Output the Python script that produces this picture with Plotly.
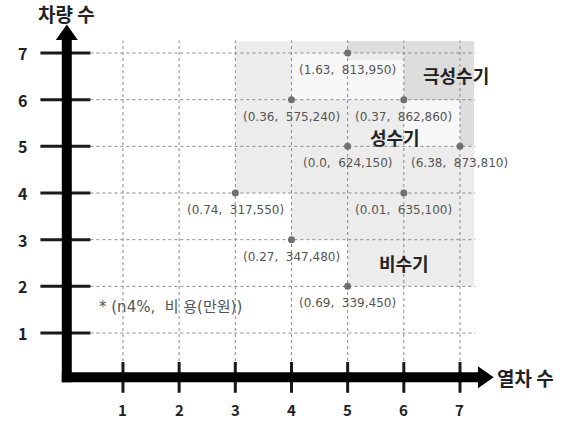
import plotly.graph_objects as go

# ---- data ----
tick_vals = [1, 2, 3, 4, 5, 6, 7]
tick_labels = ["1", "2", "3", "4", "5", "6", "7"]
point_x = [5, 4, 6, 5, 7, 3, 6, 4, 5]
point_y = [7, 6, 6, 5, 5, 4, 4, 3, 2]
point_labels = ["(1.63, 813,950)", "(0.36, 575,240)", "(0.37, 862,860)",
                "(0.0, 624,150)", "(6.38, 873,810)", "(0.74, 317,550)",
                "(0.01, 635,100)", "(0.27, 347,480)", "(0.69, 339,450)"]
region_names = ["극성수기", "성수기", "비수기"]
region_x = [6.93, 5.85, 6.0]
region_y = [6.53, 5.2, 2.5]
x_title = "열차 수"
y_title = "차량 수"
note_text = "* (n4%, 비 용(만원))"

FONT = "Noto Sans CJK KR"
LFONT = "DejaVu Sans, Noto Sans CJK KR"
W, H = 577, 422
px_x = 56.17
px_y = 46.67
x0_px = 66.8
y0_px = 379.7
xr = [-x0_px / px_x, (W - x0_px) / px_x]
yr = [-(H - y0_px) / px_y, y0_px / px_y]
dx = 1 / px_x   # data units per pixel
dy = 1 / px_y

fig = go.Figure()
shapes = []

# shaded regions
light = "rgba(236,236,236,1)"
dark = "rgba(221,221,221,1)"
whiter = "rgba(247,247,247,1)"
shapes.append(dict(type="path", path="M 3 4 L 3 7.25 L 7.25 7.25 L 7.25 2 L 5 2 L 5 3 L 4 3 L 4 4 Z",
                   fillcolor=light, line=dict(width=0), layer="below"))
shapes.append(dict(type="rect", x0=4, x1=5, y0=6, y1=7, fillcolor=whiter, line=dict(width=0), layer="below"))
shapes.append(dict(type="rect", x0=6, x1=7, y0=5, y1=6, fillcolor=whiter, line=dict(width=0), layer="below"))
shapes.append(dict(type="rect", x0=5, x1=6, y0=6, y1=6.85, fillcolor=whiter, line=dict(width=0), layer="below"))
shapes.append(dict(type="path", path="M 5 7 L 5 7.25 L 7.25 7.25 L 7.25 5 L 7 5 L 7 6 L 6 6 L 6 7 Z",
                   fillcolor=dark, line=dict(width=0), layer="below"))

grid_end = 7.27
# grid lines
for v in tick_vals:
    shapes.append(dict(type="line", x0=0.42, x1=grid_end, y0=v, y1=v,
                       line=dict(color="#8a8a8a", width=1, dash="dot"), layer="below"))
    shapes.append(dict(type="line", x0=v, x1=v, y0=0.4, y1=grid_end,
                       line=dict(color="#8a8a8a", width=1, dash="dot"), layer="below"))

# tick marks
for v in tick_vals:
    shapes.append(dict(type="line", x0=-0.47, x1=0.42, y0=v, y1=v,
                       line=dict(color="#1a1a1a", width=3)))
    shapes.append(dict(type="line", x0=v, x1=v, y0=-0.28, y1=0.38,
                       line=dict(color="#1a1a1a", width=3)))

# axes lines (thick)
ax_y0 = 0.05
shapes.append(dict(type="rect", x0=-5 * dx, x1=5 * dx, y0=ax_y0 - 5 * dy, y1=7.3,
                   fillcolor="black", line=dict(width=0)))
shapes.append(dict(type="rect", x0=-5 * dx, x1=7.33, y0=ax_y0 - 5 * dy, y1=ax_y0 + 5 * dy,
                   fillcolor="black", line=dict(width=0)))
# arrowheads
shapes.append(dict(type="path",
                   path=f"M {-11*dx} 7.28 L {11*dx} 7.28 L 0 7.61 Z",
                   fillcolor="black", line=dict(width=0)))
shapes.append(dict(type="path",
                   path=f"M 7.32 {ax_y0 - 11*dy} L 7.32 {ax_y0 + 11*dy} L 7.6 {ax_y0} Z",
                   fillcolor="black", line=dict(width=0)))

# points
fig.add_trace(go.Scatter(x=point_x, y=point_y, mode="markers",
                         marker=dict(size=7, color="#707070"),
                         hoverinfo="skip", showlegend=False))

annotations = []
for x, y, t in zip(point_x, point_y, point_labels):
    annotations.append(dict(x=x, y=y, text=t.replace(", ", ",&nbsp; ", 1), showarrow=False,
                            yshift=-17,
                            font=dict(family=LFONT, size=12, color="#555555")))
for x, y, t in zip(region_x, region_y, region_names):
    annotations.append(dict(x=x, y=y, text=f"<b>{t}</b>", showarrow=False,
                            font=dict(family=FONT, size=18, color="#222222")))
# tick labels
for v, t in zip(tick_vals, tick_labels):
    annotations.append(dict(x=-0.78, y=v, text=f"<b>{t}</b>", showarrow=False,
                            font=dict(family=FONT, size=16, color="#222222")))
    annotations.append(dict(x=v, y=-0.63, text=f"<b>{t}</b>", showarrow=False,
                            font=dict(family=FONT, size=15, color="#222222")))
annotations.append(dict(x=0, y=yr[1], yanchor="top", yshift=2, text=f"<b>{y_title}</b>", showarrow=False,
                        font=dict(family=FONT, size=19, color="#222222")))
annotations.append(dict(x=7.62, y=ax_y0, text=f"<b>{x_title}</b>", showarrow=False,
                        xanchor="left", font=dict(family=FONT, size=19, color="#222222")))
annotations.append(dict(x=0.53, y=1.55, text=note_text.replace(", ", ",&nbsp; ", 1),
                        showarrow=False, xanchor="left",
                        font=dict(family=LFONT, size=15, color="#555555")))

fig.update_layout(
    width=W, height=H,
    margin=dict(l=0, r=0, t=0, b=0),
    paper_bgcolor="white", plot_bgcolor="white",
    xaxis=dict(range=xr, visible=False, fixedrange=True),
    yaxis=dict(range=yr, visible=False, fixedrange=True),
    shapes=shapes, annotations=annotations,
)
fig.write_html("out.html")
